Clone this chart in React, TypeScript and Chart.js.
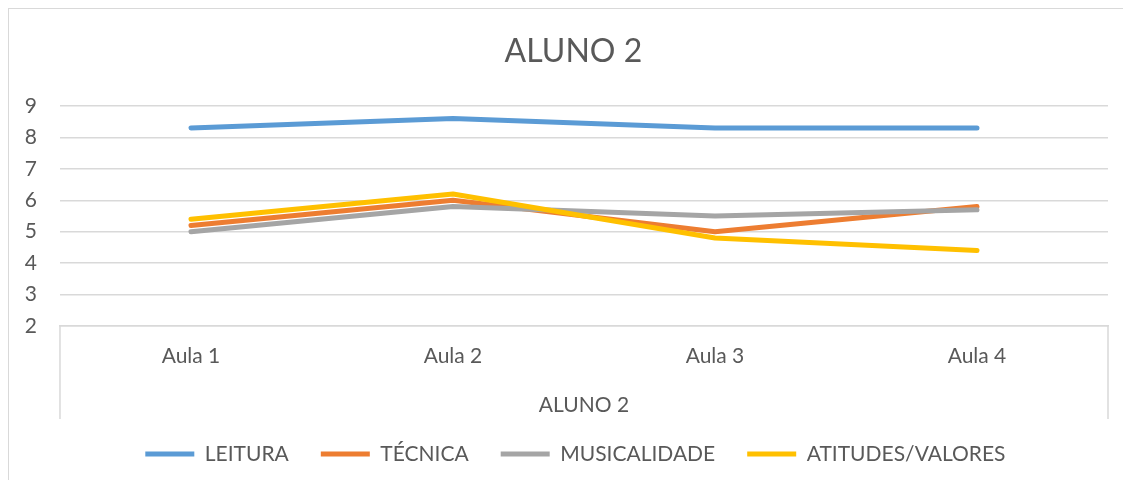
import React, { useEffect, useRef } from 'react';
import { Chart, registerables } from 'chart.js';

Chart.register(...registerables);

const categories = ['Aula 1', 'Aula 2', 'Aula 3', 'Aula 4'];
const leitura = [8.3, 8.6, 8.3, 8.3];
const tecnica = [5.2, 6.0, 5.0, 5.8];
const musicalidade = [5.0, 5.8, 5.5, 5.7];
const atitudes = [5.4, 6.2, 4.8, 4.4];
const seriesNames = ['LEITURA', 'TÉCNICA', 'MUSICALIDADE', 'ATITUDES/VALORES'];
const seriesColors = ['#5B9BD5', '#ED7D31', '#A5A5A5', '#FFC000'];
const yMin = 2;
const yMax = 9;
const yStep = 1;
const chartTitle = 'ALUNO 2';
const axisTitle = 'ALUNO 2';

const TEXT = '#595959';
const GRID = '#d9d9d9';

const framePlugin = {
  id: 'catFrame',
  afterLayout(chart: any) {
    const lg = chart.legend;
    if (lg) {
      lg.top -= 7.5;
      lg.bottom -= 7.5;
      lg.left += 9;
      lg.right += 9;
    }
    const tb = chart.titleBlock;
    if (tb) {
      tb.left += 7;
      tb.right += 7;
    }
  },
  afterDraw(chart: any) {
    const { ctx, chartArea, scales } = chart;
    const xs = scales.x;
    ctx.save();
    ctx.strokeStyle = GRID;
    ctx.lineWidth = 1.5;
    ctx.beginPath();
    [chartArea.left, chartArea.right].forEach((px: number) => {
      ctx.moveTo(px, chartArea.bottom);
      ctx.lineTo(px, xs.bottom);
    });
    ctx.stroke();
    ctx.restore();
  },
};

export default function App() {
  const ref = useRef<HTMLCanvasElement | null>(null);

  useEffect(() => {
    document.documentElement.style.overflow = 'hidden';
    document.body.style.overflow = 'hidden';
    if (!ref.current) return;
    const values = [leitura, tecnica, musicalidade, atitudes];
    const chart = new Chart(ref.current, {
      type: 'line',
      data: {
        labels: categories,
        datasets: seriesNames.map((name, i) => ({
          label: name,
          data: values[i],
          borderColor: seriesColors[i],
          backgroundColor: seriesColors[i],
          borderWidth: 5,
          borderCapStyle: 'round',
          borderJoinStyle: 'round',
          pointRadius: 0,
          pointHoverRadius: 0,
          tension: 0,
          order: seriesNames.length - i,
        })),
      },
      options: {
        animation: false,
        responsive: false,
        maintainAspectRatio: false,
        font: { family: 'Lato' },
        layout: { padding: { left: 15.8, right: 15, top: 0, bottom: 0 } },
        plugins: {
          title: {
            display: true,
            text: chartTitle,
            color: TEXT,
            font: { family: 'Lato', size: 32, weight: 'normal' },
            padding: { top: 23.8, bottom: 34.8 },
          },
          legend: {
            position: 'bottom',
            maxHeight: 61,
            labels: {
              usePointStyle: true,
              pointStyle: 'line',
              pointStyleWidth: 49,
              padding: 32,
              color: TEXT,
              font: { family: 'Lato', size: 21 },
              sort: (a: any, b: any) => a.datasetIndex - b.datasetIndex,
            },
          },
          tooltip: { enabled: false },
        },
        scales: {
          x: {
            offset: true,
            grid: { display: false, drawTicks: false },
            border: { display: true, color: GRID, width: 1.5 },
            ticks: {
              color: TEXT,
              font: { family: 'Lato', size: 21 },
              padding: 18,
              maxRotation: 0,
            },
            title: {
              display: true,
              text: axisTitle,
              color: TEXT,
              font: { family: 'Lato', size: 21 },
              padding: { top: 23.2, bottom: 1.4 },
            },
            afterFit: (scale: any) => {
              scale.height -= scale.options.ticks.padding;
            },
          },
          y: {
            min: yMin,
            max: yMax,
            grid: { color: GRID, lineWidth: 1.5, drawTicks: false },
            border: { display: false },
            ticks: {
              stepSize: yStep,
              color: TEXT,
              font: { family: 'Lato', size: 21 },
              padding: 23,
            },
            afterFit: (scale: any) => {
              scale.width -= scale.options.ticks.padding;
            },
          },
        },
      },
      plugins: [framePlugin],
    } as any);
    return () => chart.destroy();
  }, []);

  return (
    <div
      style={{
        width: 1115,
        height: 472,
        borderTop: `1px solid ${GRID}`,
        borderLeft: `1px solid ${GRID}`,
        boxSizing: 'border-box',
        background: '#fff',
      }}
    >
      <canvas ref={ref} width={1114} height={471} style={{ display: 'block' }} />
    </div>
  );
}
